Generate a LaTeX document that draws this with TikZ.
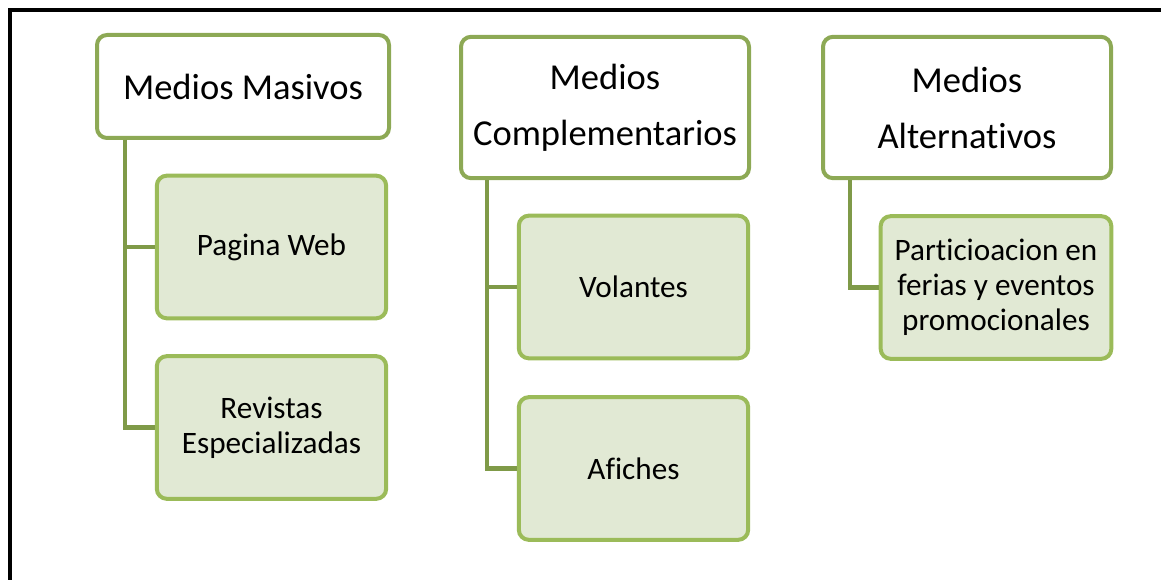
\documentclass[tikz,border=0pt]{standalone}
\usepackage{fontspec}
\setmainfont{Carlito}[Ligatures=NoCommon]
\definecolor{topline}{HTML}{8DA955}
\definecolor{childline}{HTML}{9BBB59}
\definecolor{childfill}{HTML}{E1E9D4}
\definecolor{connline}{HTML}{7F9A48}
\begin{document}
\begin{tikzpicture}[x=0.75pt,y=-0.75pt,
  topbox/.style={draw=topline,fill=white,line width=3pt,rounded corners=7.5pt,inner sep=0pt,align=center,
    font=\fontsize{27.4}{42}\selectfont},
  childbox/.style={draw=childline,fill=childfill,line width=3pt,rounded corners=7.5pt,inner sep=0pt,align=center,
    font=\fontsize{23.4}{26.25}\selectfont},
  conn/.style={draw=connline,line width=3.2pt}]
\useasboundingbox (0,0) rectangle (1161,580);
\draw[line width=3pt] (10,580) -- (10,10) -- (1161,10);
% top boxes
\node[topbox,minimum width=219pt,minimum height=77.25pt] (m1) at (243,86.5) {Medios Masivos};
\node[topbox,minimum width=216pt,minimum height=106pt] (m2) at (605,107.5) {Medios\\Complementarios};
\node[topbox,minimum width=216pt,minimum height=106pt] (m3) at (967,107.5) {Medios\\Alternativos};
% children
\node[childbox,minimum width=172pt,minimum height=107pt] (pw) at (271.5,247) {Pagina Web};
\node[childbox,minimum width=172pt,minimum height=107pt] (rev) at (271.5,427.5) {Revistas\\Especializadas};
\node[childbox,minimum width=172pt,minimum height=107pt] (vol) at (633.5,287) {Volantes};
\node[childbox,minimum width=172pt,minimum height=107pt] (afi) at (633.5,468.5) {Afiches};
\node[childbox,minimum width=173pt,minimum height=107pt] (par) at (996,287.5) {Particioacion en\\ferias y eventos\\promocionales};
% connectors
\draw[conn] ([xshift=22.5pt]m1.south west) |- (pw.west);
\draw[conn] ([xshift=22.5pt]m1.south west) |- (rev.west);
\draw[conn] ([xshift=21pt]m2.south west) |- (vol.west);
\draw[conn] ([xshift=21pt]m2.south west) |- (afi.west);
\draw[conn] ([xshift=21.75pt]m3.south west) |- (par.west);
\end{tikzpicture}
\end{document}
